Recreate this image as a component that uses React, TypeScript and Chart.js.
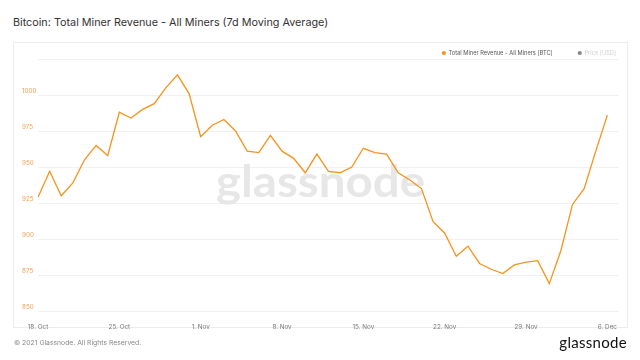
import React, { useEffect, useRef } from "react";
import { Chart, registerables } from "chart.js";

Chart.register(...registerables);

const TITLE = "Bitcoin: Total Miner Revenue - All Miners (7d Moving Average)";
const SERIES_LABEL = "Total Miner Revenue - All Miners [BTC]";
const PRICE_LABEL = "Price [USD]";

// daily values, 18 Oct 2021 .. 6 Dec 2021
const revenue: number[] = [
  929, 947, 930, 939, 955, 965, 958, 988, 984, 990,
  994, 1005, 1014, 1001, 971, 979, 983, 975, 961, 960,
  972, 961, 956, 946, 959, 947, 946, 950, 963, 960,
  959, 946, 941, 935, 912, 904, 888, 895, 883, 879,
  876, 882, 884, 885, 869, 892, 924, 935, 961, 986,
];

const tickDays: number[] = [0, 7, 14, 21, 28, 35, 42, 49];
const tickLabels: string[] = ["18. Oct", "25. Oct", "1. Nov", "8. Nov", "15. Nov", "22. Nov", "29. Nov", "6. Dec"];
const yTicks: number[] = [850, 875, 900, 925, 950, 975, 1000, 1025];

const ORANGE = "#f7931a";
const FONT = "Inter, 'Noto Sans', sans-serif";

const watermarkPlugin = {
  id: "watermark",
  beforeDatasetsDraw(chart: any) {
    const ctx = chart.ctx;
    ctx.save();
    ctx.font = `bold 44px Lato, 'Noto Sans', sans-serif`;
    const w = ctx.measureText("glassnode").width;
    const sx = 209 / w;
    ctx.translate(320.5, 197);
    ctx.scale(sx, 1);
    ctx.textAlign = "center";
    ctx.textBaseline = "alphabetic";
    ctx.fillStyle = "#e7e7e7";
    ctx.fillText("glassnode", 0, 0);
    ctx.restore();
  },
};

const legendPlugin = {
  id: "customLegend",
  afterDraw(chart: any) {
    const ctx = chart.ctx;
    ctx.save();
    ctx.font = `5.7px ${FONT}`;
    ctx.textBaseline = "middle";
    ctx.textAlign = "left";
    const y = 53;
    let x = 616;
    const ds = chart.data.datasets.slice().reverse();
    ds.forEach((d: any) => {
      const hidden = !!d.hidden;
      const tw = ctx.measureText(d.label).width;
      const tx = x - tw;
      ctx.fillStyle = hidden ? "#cfcfcf" : "#555";
      ctx.fillText(d.label, tx, y);
      ctx.beginPath();
      ctx.arc(tx - 4.7, y, 2.1, 0, Math.PI * 2);
      ctx.fillStyle = hidden ? "#888" : d.borderColor;
      ctx.fill();
      x = tx - 4.7 - 2.1 - 25;
    });
    ctx.restore();
  },
};

export default function App() {
  const ref = useRef<HTMLCanvasElement | null>(null);
  useEffect(() => {
    if (!ref.current) return;
    const chart = new Chart(ref.current, {
      type: "line",
      data: {
        datasets: [
          {
            label: SERIES_LABEL,
            data: revenue.map((v, i) => ({ x: i, y: v })),
            borderColor: ORANGE,
            backgroundColor: ORANGE,
            borderWidth: 1.3,
            pointRadius: 0,
            tension: 0,
            fill: false,
          },
          {
            label: PRICE_LABEL,
            data: [],
            borderColor: "#888",
            backgroundColor: "#888",
            hidden: true,
          },
        ],
      },
      options: {
        animation: false,
        responsive: false,
        devicePixelRatio: 1,
        layout: { padding: { left: 22, right: 21, top: 59, bottom: 30 } },
        plugins: { legend: { display: false }, tooltip: { enabled: false }, title: { display: false } },
        scales: {
          x: {
            type: "linear",
            min: 0,
            max: 50,
            afterBuildTicks: (s: any) => {
              s.ticks = tickDays.map((v) => ({ value: v }));
            },
            afterFit: (s: any) => {
              s.height = 19;
            },
            ticks: {
              autoSkip: false,
              maxRotation: 0,
              padding: 4,
              color: "#777",
              font: { family: FONT, size: 6.3 },
              callback: (v: any) => {
                const i = tickDays.indexOf(Number(v));
                return i >= 0 ? tickLabels[i] : "";
              },
            },
            grid: { display: false },
            border: { display: false },
          },
          y: {
            min: 850,
            max: 1025,
            afterBuildTicks: (s: any) => {
              s.ticks = yTicks.map((v) => ({ value: v }));
            },
            afterFit: (s: any) => {
              s.width = 16;
            },
            ticks: {
              crossAlign: "far",
              labelOffset: -3.5,
              padding: 0,
              color: "#eea24f",
              font: { family: FONT, size: 6.3 },
              callback: (v: any) => (Number(v) === 1025 ? "" : String(v)),
            },
            grid: { color: "#f1f1f1", drawTicks: false, lineWidth: 1 },
            border: { display: false },
          },
        },
      },
      plugins: [watermarkPlugin, legendPlugin],
    });
    return () => chart.destroy();
  }, []);

  return (
    <div style={{ position: "fixed", left: 0, top: 0, width: 640, height: 360, background: "#fff", overflow: "hidden" }}>
      <div
        style={{
          position: "absolute",
          left: 13,
          top: 17,
          fontFamily: FONT,
          fontSize: 10.8,
          lineHeight: "12px",
          color: "#333",
          whiteSpace: "nowrap",
        }}
      >
        {TITLE}
      </div>
      <div
        style={{
          position: "absolute",
          left: 13,
          top: 42,
          width: 613,
          height: 284,
          border: "1px solid #ececec",
        }}
      />
      <canvas ref={ref} width={640} height={360} style={{ position: "absolute", left: 0, top: 0, width: 640, height: 360 }} />
      <div
        style={{
          position: "absolute",
          left: 14,
          top: 338,
          fontFamily: FONT,
          fontSize: 6.8,
          lineHeight: "10px",
          color: "#888",
          whiteSpace: "nowrap",
        }}
      >
        © 2021 Glassnode. All Rights Reserved.
      </div>
      <div
        style={{
          position: "absolute",
          right: 13,
          top: 334,
          fontFamily: "Lato, 'Noto Sans', sans-serif",
          fontSize: 15,
          lineHeight: "16px",
          letterSpacing: "0.3px",
          color: "#111",
          whiteSpace: "nowrap",
        }}
      >
        glassnode
      </div>
    </div>
  );
}
